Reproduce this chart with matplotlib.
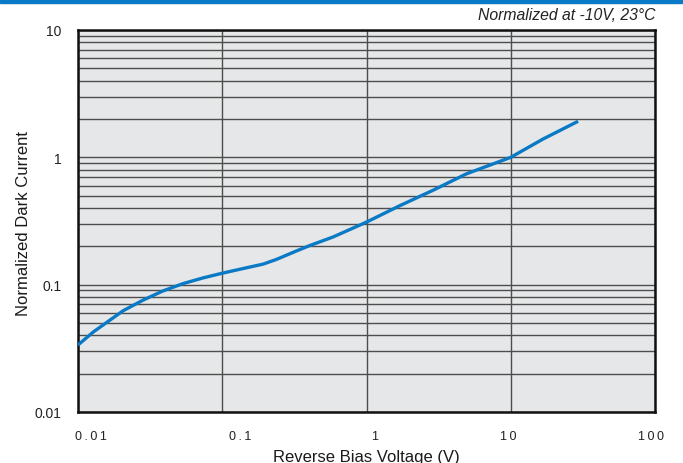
import numpy as np
import matplotlib
matplotlib.use("Agg")
import matplotlib.pyplot as plt
from matplotlib.transforms import ScaledTranslation
from matplotlib.patches import Rectangle

plt.rcParams['font.family'] = ['Liberation Sans', 'DejaVu Sans']

# curve
voltage = [0.01, 0.0128, 0.0167, 0.0206, 0.0283, 0.0389, 0.0536, 0.0736, 0.1,
           0.14, 0.192, 0.238, 0.327, 0.405, 0.587, 1.0, 1.70, 2.90, 4.93,
           10.0, 16.7, 29.3]
dark_current = [0.0336, 0.0426, 0.0528, 0.0625, 0.0757, 0.0894, 0.102, 0.113, 0.123,
                0.134, 0.145, 0.158, 0.184, 0.203, 0.237, 0.310, 0.417, 0.552, 0.742,
                1.0, 1.39, 1.92]

x_ticks = [0.01, 0.1, 1, 10, 100]
x_labels = ["0\u2009.\u20090\u20091", "0\u2009.\u20091", "1", "1\u20090", "1\u20090\u20090"]
x_label_shift = [13, 18, 8, -3, -4]   # pixels, the labels sit off the grid in the original
y_ticks = [0.01, 0.1, 1, 10]
y_labels = ["0.01", "0.1", "1", "10"]

blue = "#0a7ac6"
grid_col = "#4d4d4d"

fig = plt.figure(figsize=(6.83, 4.64), dpi=100)
ax = fig.add_axes([78/683, 51/464, 577/683, 382/464])

fig.patches.append(Rectangle((0, 1 - 4/464), 1, 4/464, transform=fig.transFigure,
                             color=blue, zorder=0))

ax.set_facecolor("#e6e7e8")
ax.plot(voltage, dark_current, color=blue, lw=2.4, solid_joinstyle="round",
        solid_capstyle="butt", zorder=3)

ax.set_xscale("log")
ax.set_yscale("log")
ax.set_xlim(0.01, 100)
ax.set_ylim(0.01, 10)

ax.set_xticks(x_ticks)
ax.set_xticklabels(x_labels)
ax.set_xticks([], minor=True)
ax.set_yticks(y_ticks)
ax.set_yticklabels(y_labels)
ax.set_yticks([m * 10.0**e for e in range(-2, 1) for m in range(2, 10)], minor=True)
ax.yaxis.set_minor_formatter(plt.NullFormatter())

ax.grid(True, which="major", axis="x", color=grid_col, lw=1.0)
ax.grid(True, which="both", axis="y", color=grid_col, lw=1.0)
ax.set_axisbelow(True)

ax.tick_params(which="both", length=0)
ax.tick_params(axis="x", pad=13, labelsize=9, labelcolor="#222222")
ax.tick_params(axis="y", pad=12, labelsize=10, labelcolor="#222222")

for lab, dx in zip(ax.get_xticklabels(), x_label_shift):
    lab.set_transform(lab.get_transform() + ScaledTranslation(dx/100, 0, fig.dpi_scale_trans))

for s in ax.spines.values():
    s.set_color("#111111")
    s.set_linewidth(1.8)

ax.set_xlabel("Reverse Bias Voltage (V)", fontsize=12, color="#1a1a1a", va="baseline")
ax.xaxis.set_label_coords(0.5, (413 - 462) / 382)
ax.set_ylabel("Normalized Dark Current", fontsize=12, color="#1a1a1a", va="center")
ax.yaxis.set_label_coords((24 - 78) / 577, 0.5 + (221 - 222) / 382)

fig.text(655/683, 1 - 15/464, "Normalized at -10V, 23\u00b0C", ha="right", va="center",
         fontsize=11.3, style="italic", color="#222222")

fig.savefig("out.png", dpi=100)
